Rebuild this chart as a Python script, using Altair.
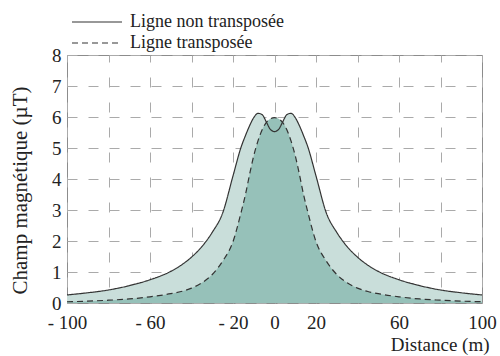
import altair as alt
import pandas as pd

# Distance (m)
distance = [-100, -90, -80, -70, -60, -50, -45, -40, -35, -30, -25, -20, -16, -14, -12, -10, -8, -6, -4, -2, 0,
            2, 4, 6, 8, 10, 12, 14, 16, 20, 25, 30, 35, 40, 45, 50, 60, 70, 80, 90, 100]
# Champ magnétique (µT) - ligne non transposée
non_transposee = [0.26, 0.33, 0.42, 0.56, 0.75, 1.02, 1.22, 1.48, 1.82, 2.28, 2.9, 4.1, 5.05, 5.4, 5.72, 5.98, 6.12, 6.08, 5.85, 5.6, 5.53,
                  5.6, 5.85, 6.08, 6.12, 5.98, 5.72, 5.4, 5.05, 4.1, 2.9, 2.28, 1.82, 1.48, 1.22, 1.02, 0.75, 0.56, 0.42, 0.33, 0.26]
# Champ magnétique (µT) - ligne transposée
transposee = [0.04, 0.06, 0.09, 0.13, 0.2, 0.3, 0.37, 0.48, 0.65, 0.92, 1.35, 1.98, 2.95, 3.5, 4.15, 4.75, 5.22, 5.58, 5.82, 5.94, 5.98,
              5.94, 5.82, 5.58, 5.22, 4.75, 4.15, 3.5, 2.95, 1.98, 1.35, 0.92, 0.65, 0.48, 0.37, 0.3, 0.2, 0.13, 0.09, 0.06, 0.04]

series_names = ["Ligne non transposée", "Ligne transposée"]
x_labels = [-100, -60, -20, 0, 20, 60, 100]
x_grid = [-100, -80, -60, -40, -20, 0, 20, 40, 60, 80, 100]
y_ticks = [0, 1, 2, 3, 4, 5, 6, 7, 8]

df = pd.DataFrame({
    "Distance": distance * 2,
    "Champ": non_transposee + transposee,
    "Ligne": [series_names[0]] * len(distance) + [series_names[1]] * len(distance),
})

FONT = "Liberation Serif"
label_expr = ("indexof([" + ",".join(str(v) for v in x_labels) +
              "], datum.value) >= 0 ? (datum.value < 0 ? '- ' + abs(datum.value) : '' + datum.value) : ''")

x_axis = alt.Axis(values=x_grid, labelExpr=label_expr, ticks=False, domain=False,
                  labelOverlap=False, labelFlush=False, grid=True, gridDash=[10, 15], gridDashOffset=3,
                  gridColor="#aaaaaa",
                  title="Distance (m)", titleAlign="right", titleAnchor="end", titleX=422, titleY=47,
                  titleBaseline="alphabetic", labelPadding=10)
y_axis = alt.Axis(values=y_ticks, ticks=False, domain=False, labelOverlap=False,
                  grid=True, gridDash=[10, 11], gridColor="#aaaaaa", labelPadding=6,
                  title="Champ magnétique (µT)", titleFontSize=21, titleX=-47, titleY=135,
                  titleAlign="center", titleBaseline="middle", titleAngle=-90)

x_enc = alt.X("Distance:Q", scale=alt.Scale(domain=[-100, 100], nice=False), axis=x_axis)
y_enc = alt.Y("Champ:Q", scale=alt.Scale(domain=[0, 8], nice=False), axis=y_axis)

base = alt.Chart(df)

area_outer = base.transform_filter(alt.datum.Ligne == series_names[0]).mark_area(
    color="#c9deda", interpolate="monotone", opacity=1).encode(x=x_enc, y=y_enc)
area_inner = base.transform_filter(alt.datum.Ligne == series_names[1]).mark_area(
    color="#96c1b9", interpolate="monotone", opacity=1).encode(x=x_enc, y=y_enc)


def line_layer(name, dash, legend_y):
    return base.transform_filter(alt.datum.Ligne == name).mark_line(
        color="#333333", strokeWidth=1.2, interpolate="monotone").encode(
        x=x_enc, y=y_enc,
        strokeDash=alt.StrokeDash("Ligne:N",
                                  scale=alt.Scale(domain=[name], range=[dash]),
                                  legend=alt.Legend(title=None, orient="none", legendX=1, legendY=legend_y,
                                                    symbolType="M-5,0H5", symbolSize=100, symbolOffset=20,
                                                    symbolStrokeColor="#333", symbolStrokeWidth=1.2,
                                                    labelOffset=24, labelLimit=300)))


line_solid = line_layer(series_names[0], [1, 0], -42)
line_dashed = line_layer(series_names[1], [6, 4], -21)

chart = alt.layer(area_outer, area_inner, line_solid, line_dashed).resolve_scale(
    strokeDash="independent"
).resolve_legend(
    strokeDash="independent"
).properties(
    width=415, height=248,
    autosize=alt.AutoSizeParams(type="none"),
    padding={"left": 67, "top": 55, "right": 18, "bottom": 53},
).configure_view(
    stroke="#8c8c8c", strokeWidth=1
).configure_axis(
    labelFont=FONT, labelFontSize=19, labelColor="#222", labelOverlap=False,
    titleFont=FONT, titleFontSize=19, titleFontWeight="normal", titleColor="#222",
    gridWidth=1
).configure_legend(
    labelFont=FONT, labelFontSize=18, labelColor="#222"
)

chart.save("out.html", embed_options={"renderer": "svg", "actions": False})
